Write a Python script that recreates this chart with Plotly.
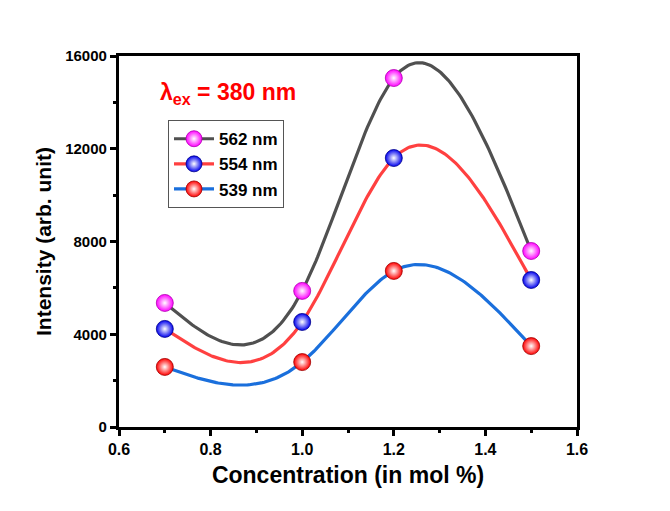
import numpy as np
import plotly.graph_objects as go

conc = [0.7, 1.0, 1.2, 1.5]
i562 = [5350, 5870, 15050, 7590]
i554 = [4230, 4530, 11600, 6340]
i539 = [2590, 2800, 6730, 3490]
ytickvals = [0, 4000, 8000, 12000, 16000]
xtickvals = [0.6, 0.8, 1.0, 1.2, 1.4, 1.6]

series = [
    ("562 nm", i562, "#505050", "#ff00ff", "#b000b0"),
    ("554 nm", i554, "#ff4040", "#0000ee", "#00008a"),
    ("539 nm", i539, "#1a6fdc", "#ff0000", "#a00000"),
]


def natural_spline(x, y, n=200):
    x = np.asarray(x, float)
    y = np.asarray(y, float)
    k = len(x)
    h = np.diff(x)
    A = np.zeros((k, k))
    b = np.zeros(k)
    A[0, 0] = A[-1, -1] = 1
    for i in range(1, k - 1):
        A[i, i - 1] = h[i - 1]
        A[i, i] = 2 * (h[i - 1] + h[i])
        A[i, i + 1] = h[i]
        b[i] = 6 * ((y[i + 1] - y[i]) / h[i] - (y[i] - y[i - 1]) / h[i - 1])
    M = np.linalg.solve(A, b)
    xs = np.linspace(x[0], x[-1], n)
    ys = np.empty_like(xs)
    for j, t in enumerate(xs):
        i = min(np.searchsorted(x, t, side="right") - 1, k - 2)
        a, c = x[i], x[i + 1]
        hi = c - a
        ys[j] = (M[i] * (c - t) ** 3 / (6 * hi) + M[i + 1] * (t - a) ** 3 / (6 * hi)
                 + (y[i] / hi - M[i] * hi / 6) * (c - t)
                 + (y[i + 1] / hi - M[i + 1] * hi / 6) * (t - a))
    return xs, ys


FONT = "Liberation Sans, Arial"
fig = go.Figure()
for name, vals, lc, mc, edge in series:
    xs, ys = natural_spline(conc, vals)
    fig.add_trace(go.Scatter(x=xs, y=ys, mode="lines", showlegend=False,
                             legendgroup=name, hoverinfo="skip",
                             line=dict(color=lc, width=3.2)))
marker_style = {}
for name, vals, lc, mc, edge in series:
    marker_style[name] = dict(size=17, color=mc, line=dict(color=edge, width=0.8),
                              gradient=dict(type="radial", color="white"))
    fig.add_trace(go.Scatter(x=conc, y=vals, mode="markers", showlegend=False,
                             legendgroup=name, marker=marker_style[name]))
for name, vals, lc, mc, edge in series:
    fig.add_trace(go.Scatter(x=[None], y=[None], mode="lines+markers",
                             name=f"<b>{name}</b>", legendgroup=name,
                             line=dict(color=lc, width=3.2), marker=marker_style[name]))

axis_common = dict(
    showline=True, linewidth=3.2, linecolor="black", mirror=True,
    ticks="outside", ticklen=6, tickwidth=3, tickcolor="black",
    showgrid=False, zeroline=False,
)

fig.update_xaxes(
    range=[0.6, 1.6], tickvals=xtickvals,
    ticktext=[f"<b>{v:.1f}</b>" for v in xtickvals],
    tickfont=dict(family=FONT, size=16, color="black"),
    minor=dict(ticks="outside", ticklen=3, tickwidth=3, tickcolor="black", dtick=0.1),
    title=dict(text="<b>Concentration (in mol %)</b>", standoff=10,
               font=dict(family=FONT, size=23, color="black")),
    **axis_common,
)
fig.update_yaxes(
    range=[0, 16000], tickvals=ytickvals,
    ticktext=[f"<b>{v}</b>" for v in ytickvals],
    tickfont=dict(family=FONT, size=15, color="black"),
    minor=dict(ticks="outside", ticklen=3, tickwidth=3, tickcolor="black", dtick=2000),
    title=dict(text="<b>Intensity (arb. unit)</b>", standoff=8,
               font=dict(family=FONT, size=21, color="black")),
    **axis_common,
)

fig.add_annotation(
    xref="paper", yref="paper", x=0.085, y=0.9, xanchor="left", yanchor="middle",
    text="<b>λ<sub>ex</sub> = 380 nm</b>", showarrow=False,
    font=dict(family=FONT, size=23, color="#ff0000"),
)

fig.update_layout(
    width=670, height=511,
    margin=dict(l=119, r=93, t=56, b=84),
    plot_bgcolor="white", paper_bgcolor="white",
    showlegend=True,
    legend=dict(x=0.107, y=0.827, xanchor="left", yanchor="top",
                bordercolor="#555555", borderwidth=1, bgcolor="white",
                tracegroupgap=0, itemwidth=40,
                font=dict(family=FONT, size=17, color="black")),
)

fig.write_html("out.html")
